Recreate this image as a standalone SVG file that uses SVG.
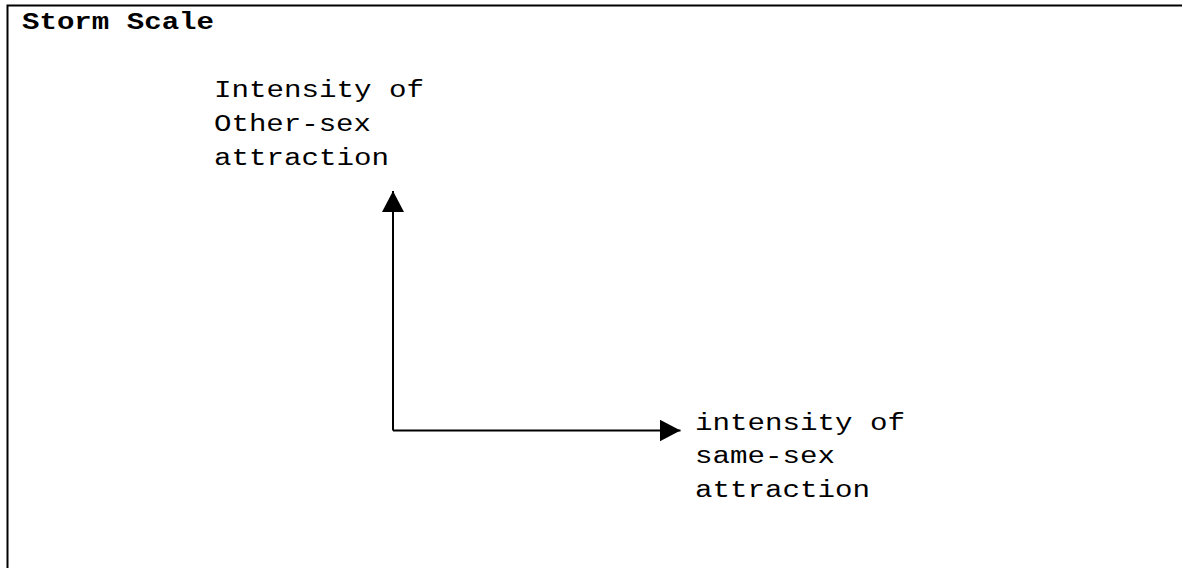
<svg xmlns="http://www.w3.org/2000/svg" width="1182" height="568" viewBox="0 0 1182 568">
<style>
.t{font-family:"Liberation Mono","Courier New",monospace;font-size:23px;fill:#000}
.b{font-weight:bold}
.ln{stroke:#000;stroke-width:2;fill:none}
</style>
<defs>
<marker id="ah" markerWidth="11" markerHeight="11" refX="10.5" refY="5.5" orient="auto" markerUnits="strokeWidth">
<path d="M0,0 L10.5,5.5 L0,11 Z" fill="#000"/>
</marker>
</defs>
<rect width="1182" height="568" fill="#fff"/>
<path class="ln" d="M7.5,568 V5.5 H1182" stroke-width="2.5"/>
<text id="title" class="t b" x="22" y="29" textLength="192" lengthAdjust="spacingAndGlyphs">Storm Scale</text>
<g id="yLabel">
<text class="t" x="214" y="97" textLength="210" lengthAdjust="spacingAndGlyphs">Intensity of</text>
<text class="t" x="214" y="131" textLength="157" lengthAdjust="spacingAndGlyphs">Other-sex</text>
<text class="t" x="214" y="165" textLength="175" lengthAdjust="spacingAndGlyphs">attraction</text>
</g>
<g id="xLabel">
<text class="t" x="695" y="430" textLength="210" lengthAdjust="spacingAndGlyphs">intensity of</text>
<text class="t" x="695" y="463" textLength="140" lengthAdjust="spacingAndGlyphs">same-sex</text>
<text class="t" x="695" y="497" textLength="175" lengthAdjust="spacingAndGlyphs">attraction</text>
</g>
<g id="connectors">
<path class="ln" d="M393,430.5 V191" marker-end="url(#ah)"/>
<path class="ln" d="M393,430.5 H680.5" marker-end="url(#ah)"/>
</g>
</svg>
